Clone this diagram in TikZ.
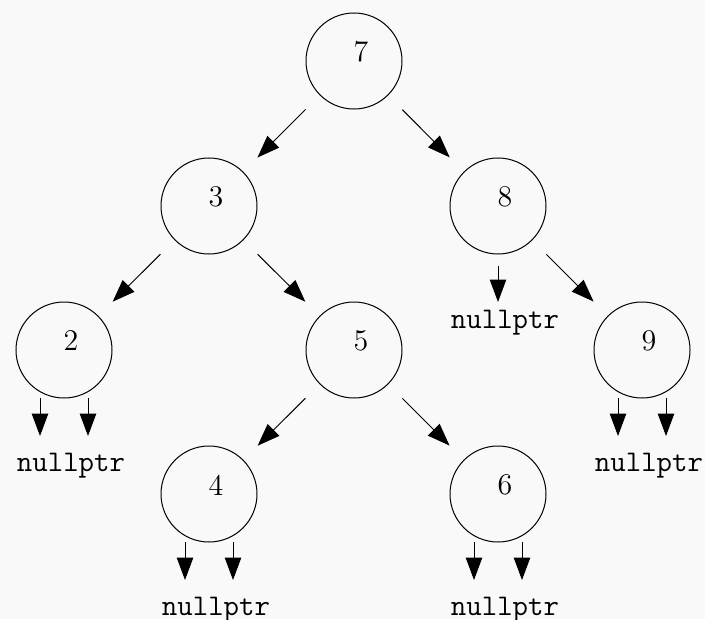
\documentclass[tikz,border=0pt]{standalone}
\usepackage{fontspec}
\usetikzlibrary{arrows.meta,calc}
\definecolor{bgc}{RGB}{249,249,249}
\begin{document}
\begin{tikzpicture}[x=0.4pt,y=-0.4pt,
  treenode/.style={circle,draw,line width=0.4pt,minimum size=38.4pt,inner sep=0pt},
  numlabel/.style={font=\fontsize{12}{14}\selectfont,inner sep=0pt},
  nulltext/.style={font=\fontsize{12}{14}\selectfont\ttfamily,inner sep=0pt,anchor=base},
  arr/.style={line width=0.4pt,-{Triangle[length=9pt,width=6.6pt]}},
  linkarr/.style={arr,shorten <=8pt,shorten >=8pt}]
\fill[bgc] (0,0) rectangle (705,619);
\useasboundingbox (0,0) rectangle (705,619);
% nodes
\node[treenode] (n7) at (354,61) {};
\node[treenode] (n3) at (209,206) {};
\node[treenode] (n8) at (498,206) {};
\node[treenode] (n2) at (64,350) {};
\node[treenode] (n5) at (354,350) {};
\node[treenode] (n9) at (642,350) {};
\node[treenode] (n4) at (209,494) {};
\node[treenode] (n6) at (498,494) {};
% labels
\node[numlabel] (l7) at ($(n7)+(7,-9)$) {7};
\node[numlabel] (l3) at ($(n3)+(7,-9)$) {3};
\node[numlabel] (l8) at ($(n8)+(7,-9)$) {8};
\node[numlabel] (l2) at ($(n2)+(7,-9)$) {2};
\node[numlabel] (l5) at ($(n5)+(7,-9)$) {5};
\node[numlabel] (l9) at ($(n9)+(7,-9)$) {9};
\node[numlabel] (l4) at ($(n4)+(7,-9)$) {4};
\node[numlabel] (l6) at ($(n6)+(7,-9)$) {6};
% nullptr texts
\node[nulltext] (z2) at ($(n2)+(7,121)$) {nullptr};
\node[nulltext] (z8) at ($(n8)+(7,122)$) {nullptr};
\node[nulltext] (z9) at ($(n9)+(7,121)$) {nullptr};
\node[nulltext] (z4) at ($(n4)+(7,121)$) {nullptr};
\node[nulltext] (z6) at ($(n6)+(7,121)$) {nullptr};
% links
\draw[linkarr] (n7) -- (n3);
\draw[linkarr] (n7) -- (n8);
\draw[linkarr] (n3) -- (n2);
\draw[linkarr] (n3) -- (n5);
\draw[linkarr] (n8) -- (n9);
\draw[linkarr] (n5) -- (n4);
\draw[linkarr] (n5) -- (n6);
% null arrows
\draw[arr] ($(n2)+(-24,48)$) -- ++(0,38);
\draw[arr] ($(n2)+(24,48)$) -- ++(0,38);
\draw[arr] ($(n8)+(0,60)$) -- ++(0,36);
\draw[arr] ($(n9)+(-24,48)$) -- ++(0,38);
\draw[arr] ($(n9)+(24,48)$) -- ++(0,38);
\draw[arr] ($(n4)+(-24,48)$) -- ++(0,38);
\draw[arr] ($(n4)+(24,48)$) -- ++(0,38);
\draw[arr] ($(n6)+(-24,48)$) -- ++(0,38);
\draw[arr] ($(n6)+(24,48)$) -- ++(0,38);
\end{tikzpicture}
\end{document}
